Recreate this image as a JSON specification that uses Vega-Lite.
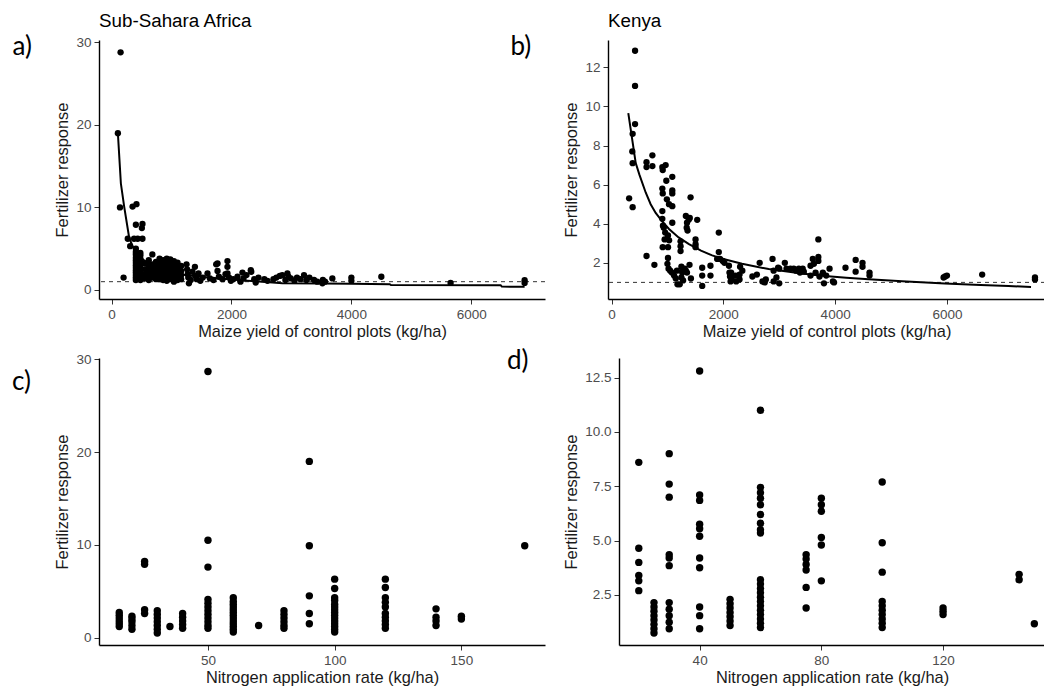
{
  "$schema": "https://vega.github.io/schema/vega-lite/v6.json",
  "background": "white",
  "padding": {"left": 12, "top": 12, "right": 0, "bottom": 0},
  "config": {
    "view": {"stroke": null},
    "font": "Liberation Sans",
    "axis": {
      "grid": false,
      "labelFont": "Liberation Sans",
      "labelFontSize": 13.5,
      "labelColor": "#4D4D4D",
      "titleFont": "Liberation Sans",
      "titleFontSize": 16.4,
      "titleFontWeight": "normal",
      "titleColor": "#1A1A1A",
      "domainColor": "#000000",
      "domainWidth": 1.4,
      "tickColor": "#333333",
      "tickWidth": 1,
      "tickSize": 5,
      "labelPadding": 3
    },
    "axisX": {"titlePadding": 3},
    "axisY": {"titlePadding": 5},
    "title": {"font": "Liberation Sans", "fontSize": 18.8, "fontWeight": "normal", "color": "#000000", "anchor": "start", "frame": "group"}
  },
  "datasets": {
    "ssa": [
      {"yield":150,"response":28.8},{"yield":105,"response":19.0},{"yield":140,"response":10.0},{"yield":350,"response":10.1},{"yield":415,"response":10.4},{"yield":200,"response":1.5},{"yield":405,"response":7.9},{"yield":515,"response":8.0},{"yield":505,"response":7.5},{"yield":270,"response":6.2},{"yield":375,"response":6.2},{"yield":435,"response":6.2},{"yield":515,"response":6.2},{"yield":310,"response":5.3},
      {"yield":405,"response":5.0},{"yield":405,"response":4.6},{"yield":405,"response":4.3},{"yield":405,"response":3.9},{"yield":405,"response":3.6},{"yield":405,"response":3.3},{"yield":405,"response":3.0},{"yield":405,"response":2.7},{"yield":405,"response":2.4},{"yield":405,"response":2.1},{"yield":405,"response":1.8},{"yield":405,"response":1.5},{"yield":405,"response":1.2},
      {"yield":480,"response":4.5},{"yield":480,"response":4.2},{"yield":480,"response":3.8},{"yield":480,"response":3.4},{"yield":480,"response":3.0},{"yield":480,"response":2.6},{"yield":480,"response":2.3},{"yield":480,"response":2.0},{"yield":480,"response":1.7},{"yield":480,"response":1.4},{"yield":480,"response":1.2},
      {"yield":560,"response":3.2},{"yield":560,"response":2.5},{"yield":560,"response":1.9},{"yield":560,"response":1.4},
      {"yield":620,"response":3.6},{"yield":620,"response":2.9},{"yield":620,"response":2.2},{"yield":620,"response":1.6},{"yield":620,"response":1.2},
      {"yield":680,"response":4.3},{"yield":680,"response":3.1},{"yield":680,"response":2.6},{"yield":680,"response":2.0},{"yield":680,"response":1.5},
      {"yield":740,"response":3.4},{"yield":740,"response":2.8},{"yield":740,"response":2.3},{"yield":740,"response":1.8},{"yield":740,"response":1.3},
      {"yield":800,"response":3.8},{"yield":800,"response":3.3},{"yield":800,"response":2.7},{"yield":800,"response":2.2},{"yield":800,"response":1.7},{"yield":800,"response":1.3},
      {"yield":860,"response":3.6},{"yield":860,"response":3.0},{"yield":860,"response":2.5},{"yield":860,"response":2.0},{"yield":860,"response":1.6},{"yield":860,"response":1.2},
      {"yield":920,"response":3.8},{"yield":920,"response":3.4},{"yield":920,"response":2.9},{"yield":920,"response":2.4},{"yield":920,"response":1.9},{"yield":920,"response":1.5},{"yield":920,"response":1.1},
      {"yield":980,"response":3.7},{"yield":980,"response":3.1},{"yield":980,"response":2.6},{"yield":980,"response":2.1},{"yield":980,"response":1.7},{"yield":980,"response":1.3},
      {"yield":1040,"response":3.5},{"yield":1040,"response":3.0},{"yield":1040,"response":2.5},{"yield":1040,"response":1.9},{"yield":1040,"response":1.4},{"yield":1040,"response":1.0},
      {"yield":1100,"response":3.3},{"yield":1100,"response":2.7},{"yield":1100,"response":2.2},{"yield":1100,"response":1.6},{"yield":1100,"response":1.2},
      {"yield":1160,"response":2.9},{"yield":1160,"response":2.3},{"yield":1160,"response":1.8},{"yield":1160,"response":1.3},
      {"yield":1250,"response":3.1},{"yield":1260,"response":2.5},{"yield":1270,"response":1.9},{"yield":1280,"response":1.5},{"yield":1290,"response":0.8},{"yield":1320,"response":1.2},{"yield":1350,"response":2.2},{"yield":1390,"response":2.8},{"yield":1400,"response":1.7},{"yield":1420,"response":1.3},{"yield":1450,"response":2.0},{"yield":1480,"response":1.1},{"yield":1520,"response":1.5},
      {"yield":1600,"response":2.0},{"yield":1640,"response":1.4},{"yield":1700,"response":1.2},{"yield":1745,"response":3.1},{"yield":1767,"response":3.2},{"yield":1767,"response":2.3},{"yield":1790,"response":1.6},{"yield":1850,"response":1.3},{"yield":1900,"response":1.9},{"yield":1933,"response":3.5},{"yield":1933,"response":2.8},{"yield":1933,"response":2.0},{"yield":1960,"response":1.5},{"yield":1990,"response":1.1},{"yield":2030,"response":1.3},
      {"yield":2100,"response":1.6},{"yield":2150,"response":1.0},{"yield":2183,"response":2.1},{"yield":2200,"response":1.4},{"yield":2250,"response":1.8},{"yield":2322,"response":2.4},{"yield":2330,"response":2.2},{"yield":2380,"response":1.3},{"yield":2404,"response":0.9},{"yield":2450,"response":1.5},{"yield":2548,"response":1.3},{"yield":2600,"response":1.1},
      {"yield":2700,"response":1.3},{"yield":2749,"response":1.5},{"yield":2806,"response":1.7},{"yield":2848,"response":1.8},{"yield":2900,"response":1.2},{"yield":2933,"response":2.0},{"yield":2950,"response":1.6},{"yield":2990,"response":1.4},{"yield":3050,"response":1.1},{"yield":3093,"response":1.5},{"yield":3150,"response":1.3},{"yield":3210,"response":1.8},{"yield":3250,"response":1.2},{"yield":3300,"response":1.5},{"yield":3377,"response":1.2},{"yield":3430,"response":1.0},{"yield":3517,"response":0.8},{"yield":3524,"response":1.2},{"yield":3560,"response":1.0},
      {"yield":3683,"response":1.4},{"yield":4000,"response":1.5},{"yield":4000,"response":1.1},{"yield":4500,"response":1.6},{"yield":5655,"response":0.85},{"yield":6890,"response":1.17},{"yield":6890,"response":0.85}
    ],
    "ssa_fit": [
      {"yield":105,"response":19.0},{"yield":155,"response":12.9},{"yield":210,"response":10.1},{"yield":294,"response":6.3},{"yield":350,"response":5.3},{"yield":420,"response":4.5},{"yield":488,"response":3.9},{"yield":627,"response":3.1},{"yield":800,"response":2.5},{"yield":1017,"response":2.1},{"yield":1200,"response":1.85},{"yield":1405,"response":1.65},{"yield":1700,"response":1.45},{"yield":1960,"response":1.3},{"yield":2200,"response":1.15},{"yield":2517,"response":1.0},{"yield":2850,"response":0.82},{"yield":3520,"response":0.78},{"yield":4000,"response":0.74},{"yield":4640,"response":0.7},{"yield":4660,"response":0.6},{"yield":6490,"response":0.58},{"yield":6510,"response":0.4},{"yield":6890,"response":0.38}
    ],
    "kenya": [
      {"yield":421,"response":12.85},{"yield":421,"response":11.05},{"yield":421,"response":9.1},{"yield":378,"response":8.6},{"yield":372,"response":7.7},{"yield":378,"response":7.1},{"yield":315,"response":5.3},{"yield":378,"response":4.85},
      {"yield":626,"response":7.15},{"yield":626,"response":6.9},{"yield":731,"response":7.5},{"yield":731,"response":6.95},{"yield":626,"response":2.35},{"yield":767,"response":1.9},
      {"yield":909,"response":6.9},{"yield":916,"response":6.75},{"yield":968,"response":7.0},{"yield":980,"response":6.2},{"yield":1087,"response":6.4},{"yield":909,"response":5.8},{"yield":916,"response":5.55},{"yield":1087,"response":5.7},{"yield":1087,"response":5.55},{"yield":990,"response":5.25},{"yield":1028,"response":5.0},{"yield":1087,"response":4.9},{"yield":909,"response":4.65},{"yield":1087,"response":4.05},{"yield":909,"response":4.25},{"yield":920,"response":3.9},{"yield":935,"response":3.8},{"yield":960,"response":3.55},{"yield":950,"response":3.2},{"yield":915,"response":2.8},{"yield":1010,"response":2.8},{"yield":1010,"response":3.4},{"yield":1030,"response":3.15},{"yield":1010,"response":2.25},{"yield":1000,"response":1.95},{"yield":1020,"response":1.7},{"yield":1050,"response":1.6},{"yield":1080,"response":1.5},{"yield":1120,"response":1.35},{"yield":1150,"response":1.2},{"yield":1180,"response":0.9},{"yield":1170,"response":1.6},
      {"yield":1235,"response":3.1},{"yield":1235,"response":2.85},{"yield":1235,"response":2.6},{"yield":1250,"response":1.8},{"yield":1280,"response":1.6},{"yield":1265,"response":1.5},{"yield":1310,"response":1.7},{"yield":1330,"response":1.6},{"yield":1350,"response":1.5},{"yield":1250,"response":1.25},{"yield":1280,"response":1.1},{"yield":1220,"response":0.9},{"yield":1330,"response":4.4},{"yield":1350,"response":4.05},{"yield":1345,"response":3.8},{"yield":1360,"response":3.65},{"yield":1414,"response":5.35},{"yield":1400,"response":4.3},{"yield":1380,"response":4.2},{"yield":1395,"response":1.9},{"yield":1420,"response":1.2},
      {"yield":1533,"response":4.2},{"yield":1503,"response":3.2},{"yield":1503,"response":2.95},{"yield":1503,"response":2.8},{"yield":1622,"response":1.75},{"yield":1622,"response":1.35},{"yield":1622,"response":0.82},{"yield":1770,"response":1.85},{"yield":1770,"response":1.35},{"yield":1919,"response":3.55},{"yield":1919,"response":2.55},{"yield":1890,"response":2.2},{"yield":1940,"response":2.2},{"yield":1990,"response":2.1},{"yield":2020,"response":2.0},
      {"yield":2100,"response":1.85},{"yield":2110,"response":1.5},{"yield":2120,"response":1.3},{"yield":2130,"response":1.05},{"yield":2140,"response":1.5},{"yield":2150,"response":1.15},{"yield":2220,"response":1.35},{"yield":2230,"response":1.05},{"yield":2290,"response":1.4},{"yield":2290,"response":1.15},{"yield":2340,"response":1.6},{"yield":2300,"response":1.8},
      {"yield":2520,"response":1.3},{"yield":2600,"response":1.4},{"yield":2650,"response":2.0},{"yield":2700,"response":1.05},{"yield":2760,"response":1.15},{"yield":2740,"response":1.0},{"yield":2880,"response":2.2},{"yield":2900,"response":1.6},{"yield":2900,"response":1.05},{"yield":2950,"response":1.25},{"yield":2980,"response":1.75},{"yield":3000,"response":1.7},{"yield":3000,"response":0.95},
      {"yield":3100,"response":2.0},{"yield":3130,"response":1.7},{"yield":3200,"response":1.7},{"yield":3260,"response":1.7},{"yield":3300,"response":1.6},{"yield":3350,"response":1.7},{"yield":3370,"response":1.5},{"yield":3420,"response":1.7},{"yield":3440,"response":1.55},{"yield":3560,"response":1.85},{"yield":3560,"response":1.35},{"yield":3600,"response":2.2},{"yield":3620,"response":1.95},{"yield":3650,"response":1.5},{"yield":3700,"response":3.2},{"yield":3700,"response":2.3},{"yield":3700,"response":2.1},{"yield":3720,"response":1.3},
      {"yield":3780,"response":1.5},{"yield":3800,"response":0.95},{"yield":3840,"response":1.35},{"yield":3900,"response":1.7},{"yield":3960,"response":1.05},{"yield":3980,"response":1.0},{"yield":4185,"response":1.75},{"yield":4367,"response":2.15},{"yield":4367,"response":1.55},{"yield":4490,"response":2.0},{"yield":4490,"response":1.8},{"yield":4615,"response":1.5},{"yield":4615,"response":1.35},
      {"yield":5940,"response":1.25},{"yield":5968,"response":1.3},{"yield":6000,"response":1.35},{"yield":6630,"response":1.4},{"yield":7575,"response":1.25},{"yield":7575,"response":1.15}
    ],
    "kenya_fit": [
      {"yield":300,"response":9.66},{"yield":433,"response":7.1},{"yield":500,"response":6.5},{"yield":611,"response":5.6},{"yield":700,"response":5.0},{"yield":790,"response":4.55},{"yield":900,"response":4.15},{"yield":1028,"response":3.73},{"yield":1200,"response":3.3},{"yield":1385,"response":2.96},{"yield":1600,"response":2.62},{"yield":1800,"response":2.38},{"yield":2000,"response":2.2},{"yield":2335,"response":1.95},{"yield":2811,"response":1.68},{"yield":3404,"response":1.45},{"yield":3761,"response":1.34},{"yield":4200,"response":1.24},{"yield":4600,"response":1.16},{"yield":5200,"response":1.06},{"yield":5960,"response":0.94},{"yield":6600,"response":0.86},{"yield":7100,"response":0.81},{"yield":7504,"response":0.77}
    ],
    "ssa_n": [
      {"nrate":15,"response":1.2},{"nrate":15,"response":1.5},{"nrate":15,"response":1.8},{"nrate":15,"response":2.1},{"nrate":15,"response":2.4},{"nrate":15,"response":2.7},
      {"nrate":20,"response":0.9},{"nrate":20,"response":1.3},{"nrate":20,"response":1.7},{"nrate":20,"response":2.0},{"nrate":20,"response":2.3},
      {"nrate":25,"response":8.2},{"nrate":25,"response":7.9},{"nrate":25,"response":3.0},{"nrate":25,"response":2.6},
      {"nrate":30,"response":0.5},{"nrate":30,"response":0.9},{"nrate":30,"response":1.3},{"nrate":30,"response":1.7},{"nrate":30,"response":2.1},{"nrate":30,"response":2.5},{"nrate":30,"response":2.9},
      {"nrate":35,"response":1.2},
      {"nrate":40,"response":1.0},{"nrate":40,"response":1.4},{"nrate":40,"response":1.8},{"nrate":40,"response":2.2},{"nrate":40,"response":2.6},
      {"nrate":50,"response":28.7},{"nrate":50,"response":10.5},{"nrate":50,"response":7.6},{"nrate":50,"response":4.1},{"nrate":50,"response":3.7},{"nrate":50,"response":3.3},{"nrate":50,"response":2.9},{"nrate":50,"response":2.5},{"nrate":50,"response":2.1},{"nrate":50,"response":1.7},{"nrate":50,"response":1.3},{"nrate":50,"response":1.0},
      {"nrate":60,"response":0.6},{"nrate":60,"response":0.9},{"nrate":60,"response":1.2},{"nrate":60,"response":1.5},{"nrate":60,"response":1.8},{"nrate":60,"response":2.1},{"nrate":60,"response":2.4},{"nrate":60,"response":2.7},{"nrate":60,"response":3.0},{"nrate":60,"response":3.3},{"nrate":60,"response":3.6},{"nrate":60,"response":3.9},{"nrate":60,"response":4.3},
      {"nrate":70,"response":1.3},
      {"nrate":80,"response":1.0},{"nrate":80,"response":1.3},{"nrate":80,"response":1.7},{"nrate":80,"response":2.1},{"nrate":80,"response":2.5},{"nrate":80,"response":2.9},
      {"nrate":90,"response":19.0},{"nrate":90,"response":9.9},{"nrate":90,"response":4.5},{"nrate":90,"response":2.6},{"nrate":90,"response":1.5},
      {"nrate":100,"response":6.3},{"nrate":100,"response":5.3},{"nrate":100,"response":4.3},{"nrate":100,"response":4.0},{"nrate":100,"response":3.6},{"nrate":100,"response":3.3},{"nrate":100,"response":3.0},{"nrate":100,"response":2.7},{"nrate":100,"response":2.4},{"nrate":100,"response":2.1},{"nrate":100,"response":1.8},{"nrate":100,"response":1.5},{"nrate":100,"response":1.2},{"nrate":100,"response":0.9},{"nrate":100,"response":0.6},
      {"nrate":120,"response":6.3},{"nrate":120,"response":5.4},{"nrate":120,"response":4.3},{"nrate":120,"response":3.8},{"nrate":120,"response":3.3},{"nrate":120,"response":2.6},{"nrate":120,"response":2.2},{"nrate":120,"response":1.8},{"nrate":120,"response":1.4},{"nrate":120,"response":1.0},
      {"nrate":140,"response":3.1},{"nrate":140,"response":2.2},{"nrate":140,"response":1.8},{"nrate":140,"response":1.3},
      {"nrate":150,"response":2.0},{"nrate":150,"response":2.3},
      {"nrate":175,"response":9.9}
    ],
    "kenya_n": [
      {"nrate":20,"response":8.6},{"nrate":20,"response":4.65},{"nrate":20,"response":4.0},{"nrate":20,"response":3.4},{"nrate":20,"response":3.15},{"nrate":20,"response":2.7},
      {"nrate":25,"response":2.15},{"nrate":25,"response":1.95},{"nrate":25,"response":1.75},{"nrate":25,"response":1.55},{"nrate":25,"response":1.35},{"nrate":25,"response":1.15},{"nrate":25,"response":0.95},{"nrate":25,"response":0.75},
      {"nrate":30,"response":9.0},{"nrate":30,"response":7.6},{"nrate":30,"response":7.0},{"nrate":30,"response":4.35},{"nrate":30,"response":4.2},{"nrate":30,"response":3.85},{"nrate":30,"response":2.15},{"nrate":30,"response":1.85},{"nrate":30,"response":1.55},{"nrate":30,"response":1.25},{"nrate":30,"response":0.95},
      {"nrate":40,"response":12.8},{"nrate":40,"response":7.1},{"nrate":40,"response":6.85},{"nrate":40,"response":5.75},{"nrate":40,"response":5.55},{"nrate":40,"response":5.2},{"nrate":40,"response":4.2},{"nrate":40,"response":3.75},{"nrate":40,"response":1.95},{"nrate":40,"response":1.55},{"nrate":40,"response":0.95},
      {"nrate":50,"response":2.3},{"nrate":50,"response":2.1},{"nrate":50,"response":1.9},{"nrate":50,"response":1.7},{"nrate":50,"response":1.5},{"nrate":50,"response":1.3},{"nrate":50,"response":1.1},
      {"nrate":60,"response":11.0},{"nrate":60,"response":7.45},{"nrate":60,"response":7.2},{"nrate":60,"response":6.95},{"nrate":60,"response":6.65},{"nrate":60,"response":6.2},{"nrate":60,"response":5.8},{"nrate":60,"response":5.5},{"nrate":60,"response":5.35},{"nrate":60,"response":3.2},{"nrate":60,"response":3.0},{"nrate":60,"response":2.8},{"nrate":60,"response":2.6},{"nrate":60,"response":2.4},{"nrate":60,"response":2.2},{"nrate":60,"response":2.0},{"nrate":60,"response":1.8},{"nrate":60,"response":1.6},{"nrate":60,"response":1.4},{"nrate":60,"response":1.2},{"nrate":60,"response":1.0},
      {"nrate":75,"response":4.35},{"nrate":75,"response":4.15},{"nrate":75,"response":3.9},{"nrate":75,"response":3.65},{"nrate":75,"response":2.85},{"nrate":75,"response":1.9},
      {"nrate":80,"response":6.95},{"nrate":80,"response":6.65},{"nrate":80,"response":6.35},{"nrate":80,"response":5.15},{"nrate":80,"response":4.8},{"nrate":80,"response":3.15},
      {"nrate":100,"response":7.7},{"nrate":100,"response":4.9},{"nrate":100,"response":3.55},{"nrate":100,"response":2.2},{"nrate":100,"response":2.0},{"nrate":100,"response":1.8},{"nrate":100,"response":1.6},{"nrate":100,"response":1.4},{"nrate":100,"response":1.2},{"nrate":100,"response":1.0},
      {"nrate":120,"response":1.9},{"nrate":120,"response":1.75},{"nrate":120,"response":1.6},
      {"nrate":145,"response":3.45},{"nrate":145,"response":3.2},
      {"nrate":150,"response":1.18}
    ]
  },
  "spacing": 8,
  "vconcat": [
    {
      "bounds": "flush",
      "spacing": 63,
      "hconcat": [
        {
          "title": {"text": "Sub-Sahara Africa", "baseline": "alphabetic", "offset": -12.5},
          "width": 446,
          "height": 259,
          "resolve": {"scale": {"x": "independent"}},
          "layer": [
            {
              "data": {"values": [{"parity": 1}]},
              "mark": {"type": "rule", "color": "#333333", "strokeWidth": 1, "strokeDash": [4, 4]},
              "encoding": {
                "y": {"field": "parity", "type": "quantitative", "scale": {"domain": [-1.1, 30.3], "nice": false, "zero": false}}
              }
            },
            {
              "data": {"name": "ssa"},
              "mark": {"type": "circle", "color": "#000000", "opacity": 1, "size": 40},
              "encoding": {
                "x": {"field": "yield", "type": "quantitative", "scale": {"domain": [-210, 7230], "nice": false, "zero": false},
                      "axis": {"orient": "bottom", "title": "Maize yield of control plots (kg/ha)", "values": [0, 2000, 4000, 6000], "format": "d"}},
                "y": {"field": "response", "type": "quantitative", "scale": {"domain": [-1.1, 30.3], "nice": false, "zero": false},
                      "axis": {"title": "Fertilizer response", "values": [0, 10, 20, 30]}}
              }
            },
            {
              "data": {"name": "ssa_fit"},
              "mark": {"type": "line", "color": "#000000", "strokeWidth": 2},
              "encoding": {
                "x": {"field": "yield", "type": "quantitative", "scale": {"domain": [-210, 7230], "nice": false, "zero": false},
                      "axis": {"orient": "top", "labels": false, "ticks": false, "domain": false, "title": "a)",
                               "titleFont": "Lato", "titleFontSize": 26, "titleColor": "#000000", "titleAngle": 0,
                               "titleAlign": "left", "titleBaseline": "middle", "titleX": -87, "titleY": 6.5}},
                "y": {"field": "response", "type": "quantitative", "scale": {"domain": [-1.1, 30.3], "nice": false, "zero": false}}
              }
            }
          ]
        },
        {
          "title": {"text": "Kenya", "baseline": "alphabetic", "offset": -12.5},
          "width": 437,
          "height": 259,
          "resolve": {"scale": {"x": "independent"}},
          "layer": [
            {
              "data": {"values": [{"parity": 1}]},
              "mark": {"type": "rule", "color": "#333333", "strokeWidth": 1, "strokeDash": [4, 4]},
              "encoding": {
                "y": {"field": "parity", "type": "quantitative", "scale": {"domain": [0.15, 13.4], "nice": false, "zero": false}}
              }
            },
            {
              "data": {"name": "kenya"},
              "mark": {"type": "circle", "color": "#000000", "opacity": 1, "size": 40},
              "encoding": {
                "x": {"field": "yield", "type": "quantitative", "scale": {"domain": [-63, 7754], "nice": false, "zero": false},
                      "axis": {"orient": "bottom", "title": "Maize yield of control plots (kg/ha)", "values": [0, 2000, 4000, 6000], "format": "d"}},
                "y": {"field": "response", "type": "quantitative", "scale": {"domain": [0.15, 13.4], "nice": false, "zero": false},
                      "axis": {"title": "Fertilizer response", "values": [2, 4, 6, 8, 10, 12]}}
              }
            },
            {
              "data": {"name": "kenya_fit"},
              "mark": {"type": "line", "color": "#000000", "strokeWidth": 2},
              "encoding": {
                "x": {"field": "yield", "type": "quantitative", "scale": {"domain": [-63, 7754], "nice": false, "zero": false},
                      "axis": {"orient": "top", "labels": false, "ticks": false, "domain": false, "title": "b)",
                               "titleFont": "Lato", "titleFontSize": 26, "titleColor": "#000000", "titleAngle": 0,
                               "titleAlign": "left", "titleBaseline": "middle", "titleX": -98, "titleY": 6.5}},
                "y": {"field": "response", "type": "quantitative", "scale": {"domain": [0.15, 13.4], "nice": false, "zero": false}}
              }
            }
          ]
        }
      ]
    },
    {
      "bounds": "flush",
      "spacing": 74,
      "hconcat": [
        {
          "title": {"text": "c)", "font": "Lato", "fontSize": 26, "baseline": "middle", "offset": 0, "dx": -87, "dy": 56},
          "width": 446,
          "height": 287,
          "data": {"name": "ssa_n"},
          "mark": {"type": "circle", "color": "#000000", "opacity": 1, "size": 55},
          "encoding": {
            "x": {"field": "nrate", "type": "quantitative", "scale": {"domain": [7, 183], "nice": false, "zero": false},
                  "axis": {"title": "Nitrogen application rate (kg/ha)", "values": [50, 100, 150]}},
            "y": {"field": "response", "type": "quantitative", "scale": {"domain": [-0.8, 30.15], "nice": false, "zero": false},
                  "axis": {"title": "Fertilizer response", "values": [0, 10, 20, 30]}}
          }
        },
        {
          "title": {"text": "d)", "font": "Lato", "fontSize": 26, "baseline": "middle", "offset": 0, "dx": -112, "dy": 29},
          "width": 426,
          "height": 287,
          "data": {"name": "kenya_n"},
          "mark": {"type": "circle", "color": "#000000", "opacity": 1, "size": 55},
          "encoding": {
            "x": {"field": "nrate", "type": "quantitative", "scale": {"domain": [13.5, 153.5], "nice": false, "zero": false},
                  "axis": {"title": "Nitrogen application rate (kg/ha)", "values": [40, 80, 120]}},
            "y": {"field": "response", "type": "quantitative", "scale": {"domain": [0.2, 13.4], "nice": false, "zero": false},
                  "axis": {"title": "Fertilizer response", "values": [2.5, 5, 7.5, 10, 12.5], "format": ".1f"}}
          }
        }
      ]
    }
  ]
}
